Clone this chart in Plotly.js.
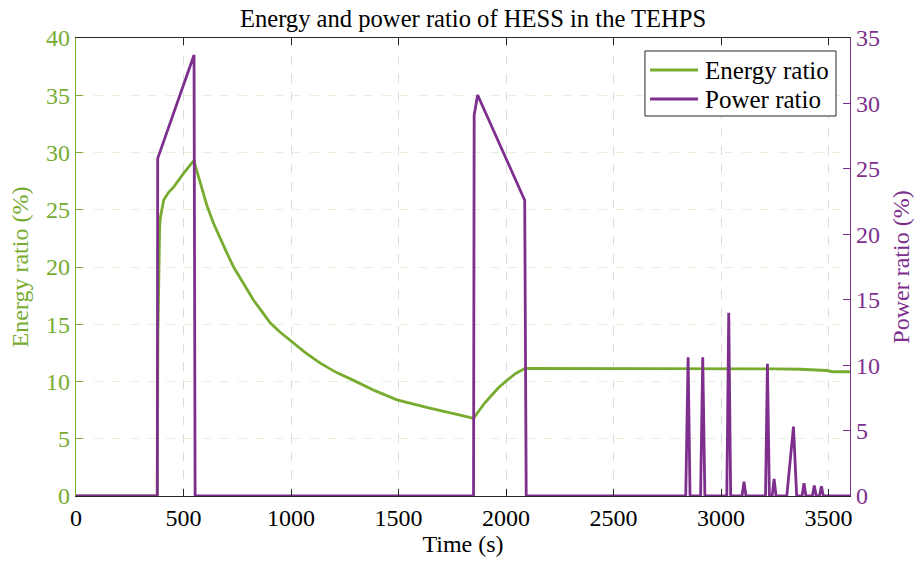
<!DOCTYPE html>
<html>
<head>
<meta charset="utf-8">
<script src="https://cdn.plot.ly/plotly-3.0.1.min.js"></script>
<style>
html,body{margin:0;padding:0;background:#fff;}
#chart{width:920px;height:563px;}
#chart svg text{font-family:'Liberation Serif', serif !important;}
</style>
</head>
<body>
<div id="chart"></div>
<script>
// Energy ratio (left axis, %)
const energyTime = [0, 378, 381, 384, 386, 389, 393, 400, 408, 430, 455, 501, 548,
  565, 580, 595, 610, 640, 672, 700, 733, 780, 826, 865, 904, 950, 997, 1065, 1136, 1210, 1291, 1390, 1493, 1640, 1787, 1849,
  1865, 1880, 1900, 1927, 1965, 2004, 2045, 2089, 2500, 3000, 3250, 3367, 3492, 3521, 3600];
const energyRatio = [0, 0, 14, 20, 22.4, 23.5, 24.4, 25.2, 25.85, 26.5, 27.0, 28.2, 29.3,
  28.2, 27.2, 26.2, 25.3, 23.8, 22.4, 21.3, 20.0, 18.5, 17.1, 16.1, 15.1, 14.3, 13.6, 12.55, 11.6, 10.8, 10.1, 9.2, 8.4, 7.7, 7.07, 6.78,
  7.2, 7.6, 8.1, 8.67, 9.45, 10.1, 10.7, 11.15, 11.15, 11.12, 11.1, 11.07, 10.96, 10.85, 10.85];

// Power ratio (right axis, %)
const powerTime = [0, 378, 380, 549, 554, 1849, 1852, 1868, 2087, 2094,
  2836, 2847, 2856, 2905, 2915, 2925, 3027, 3036, 3045, 3098, 3107, 3116,
  3207, 3216, 3225, 3238, 3247, 3256, 3306, 3337, 3352, 3377, 3386, 3395,
  3425, 3434, 3443, 3458, 3467, 3476, 3600];
const powerRatio = [0, 0, 25.8, 33.7, 0, 0, 29.1, 30.64, 22.6, 0,
  0, 10.6, 0, 0, 10.6, 0, 0, 14.0, 0, 0, 1.1, 0,
  0, 10.1, 0, 0, 1.3, 0, 0, 5.3, 0, 0, 0.97, 0,
  0, 0.8, 0, 0, 0.75, 0, 0];

const seriesNames = ['Energy ratio', 'Power ratio'];
const xTicks = [0, 500, 1000, 1500, 2000, 2500, 3000, 3500];
const leftTicks = [0, 5, 10, 15, 20, 25, 30, 35, 40];
const rightTicks = [0, 5, 10, 15, 20, 25, 30, 35];

const green = '#77AC30';
const purple = '#7E2F8E';
const font = 'Liberation Serif';
const fs = 24;

const traces = [
  {x: energyTime, y: energyRatio, type: 'scatter', mode: 'lines', name: seriesNames[0],
   line: {color: green, width: 2.8}, yaxis: 'y'},
  {x: powerTime, y: powerRatio, type: 'scatter', mode: 'lines', name: seriesNames[1],
   line: {color: purple, width: 2.8}, yaxis: 'y2'}
];

// Legend box drawn in paper coordinates (MATLAB-style legend)
const lgColors = [green, purple];
const lgX0 = 0.7351, lgX1 = 0.9819, lgY0 = 0.8297, lgY1 = 0.9716;
const lgRowY = [0.9301, 0.8668];
const shapes = [
  {type: 'rect', xref: 'paper', yref: 'paper', x0: lgX0, x1: lgX1, y0: lgY0, y1: lgY1,
   line: {color: '#262626', width: 1}, fillcolor: '#fff', layer: 'above'}
];
const annotations = [];
seriesNames.forEach((n, i) => {
  shapes.push({type: 'line', xref: 'paper', yref: 'paper', x0: 0.7416, x1: 0.8036, y0: lgRowY[i], y1: lgRowY[i],
    line: {color: lgColors[i], width: 2.8}, layer: 'above'});
  annotations.push({xref: 'paper', yref: 'paper', x: 0.8101, y: lgRowY[i], xanchor: 'left', yanchor: 'middle',
    text: n, showarrow: false, font: {family: font, size: 25, color: '#000'}});
});

const layout = {
  width: 920, height: 563,
  margin: {l: 76, r: 70, t: 38, b: 67},
  paper_bgcolor: '#fff', plot_bgcolor: '#fff',
  font: {family: font, size: fs, color: '#000'},
  showlegend: false,
  title: {text: 'Energy and power ratio of HESS in the TEHPS', font: {family: font, size: 24.6, color: '#000'},
    x: 0.513, xref: 'paper', xanchor: 'center', y: 0.968, yref: 'container', yanchor: 'middle'},
  xaxis: {
    range: [0, 3600], tickvals: xTicks, ticktext: xTicks.map(String),
    showline: true, linecolor: '#262626', linewidth: 1, mirror: 'ticks',
    ticks: 'inside', ticklen: 7, tickcolor: '#262626',
    showgrid: true, gridcolor: '#dcdcdc', griddash: 'dash', gridwidth: 1,
    zeroline: false, automargin: false,
    tickfont: {family: font, size: fs, color: '#000'},
    title: {text: 'Time (s)', font: {family: font, size: fs, color: '#000'}, standoff: 5}
  },
  yaxis: {
    range: [0, 40], tickvals: leftTicks, ticktext: leftTicks.map(String),
    showline: true, linecolor: green, linewidth: 1.2,
    ticks: 'inside', ticklen: 7, tickcolor: green,
    showgrid: true, gridcolor: 'rgba(119,172,48,0.18)', griddash: 'dash', gridwidth: 1,
    zeroline: false, automargin: false,
    tickfont: {family: font, size: fs, color: green},
    title: {text: 'Energy ratio (%)', font: {family: font, size: fs, color: green}, standoff: 10}
  },
  yaxis2: {
    range: [0, 35], tickvals: rightTicks, ticktext: rightTicks.map(String),
    overlaying: 'y', side: 'right',
    showline: true, linecolor: purple, linewidth: 1.2,
    ticks: 'inside', ticklen: 7, tickcolor: purple,
    showgrid: false, zeroline: false, automargin: false,
    tickfont: {family: font, size: fs, color: purple},
    title: {text: 'Power ratio (%)', font: {family: font, size: fs, color: purple}, standoff: 13}
  },
  shapes: shapes,
  annotations: annotations
};

Plotly.newPlot('chart', traces, layout, {staticPlot: true, displayModeBar: false});
</script>
</body>
</html>
